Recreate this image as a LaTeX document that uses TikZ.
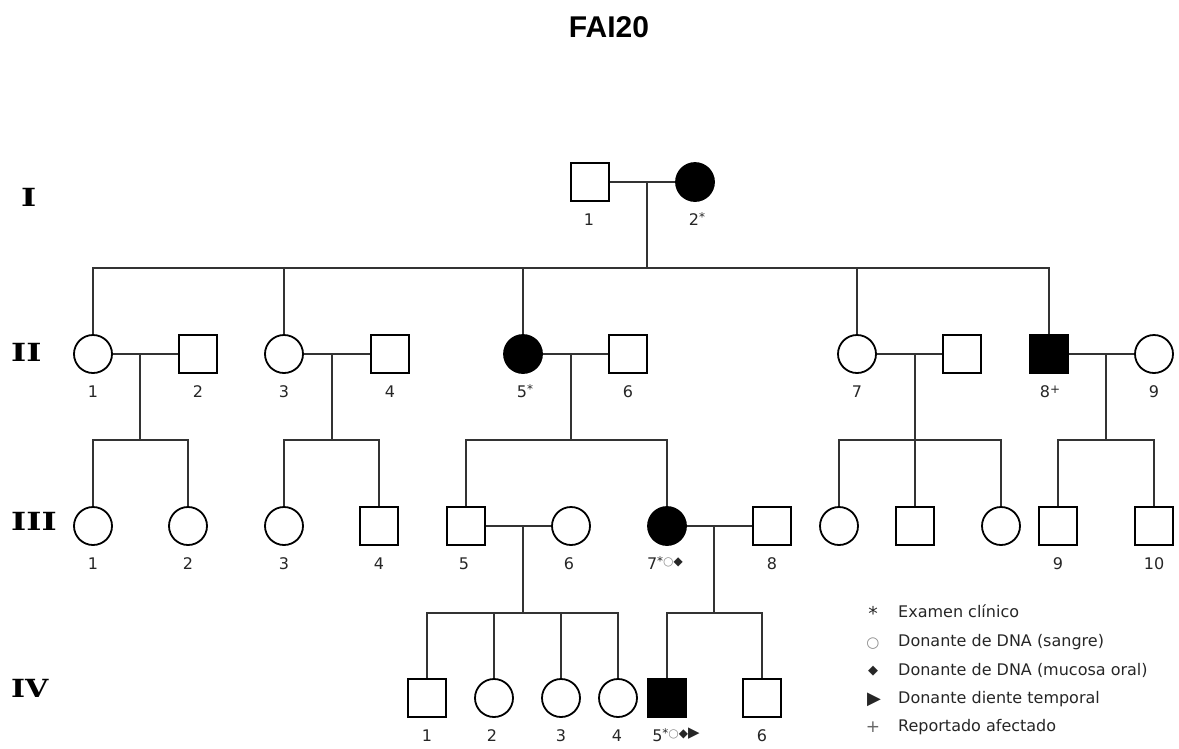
\documentclass[tikz,border=0pt]{standalone}
\usepackage{fontspec}
\setmainfont{DejaVu Sans}
\newfontfamily\titlefont{Liberation Sans}
\newfontfamily\genfont{DejaVu Serif}
\newcommand{\mk}[1]{\raisebox{3.5pt}{\fontsize{12}{12}\selectfont #1}}
\tikzset{
  male/.style={draw=black, line width=1.8pt, rectangle, minimum size=38pt, inner sep=0pt, fill=white},
  female/.style={draw=black, line width=1.8pt, circle, minimum size=38pt, inner sep=0pt, fill=white},
  aff/.style={fill=black},
  rel/.style={line width=1.5pt, draw=black!80},
  num/.style={anchor=base, inner sep=0pt, text=black!85, font=\fontsize{16}{16}\selectfont},
  gen/.style={anchor=west, inner sep=0pt, font=\genfont\bfseries\fontsize{25}{25}\selectfont},
  key/.style={anchor=base west, inner sep=0pt, text=black!85, font=\fontsize{16}{16}\selectfont},
  sym/.style={anchor=base, inner sep=0pt, text=black!85}
}
\begin{document}
\begin{tikzpicture}[x=1pt, y=-1pt]
\useasboundingbox (0,0) rectangle (1179,748);
\node[font=\titlefont\bfseries\fontsize{30}{30}\selectfont] (title) at (609,27) {FAI20};

\node[gen] (gI) at (21,197) {\scalebox{1.3}[1]{I}};
\node[gen] (gII) at (11,352) {\scalebox{1.3}[1]{II}};
\node[gen] (gIII) at (11,521) {\scalebox{1.3}[1]{III}};
\node[gen] (gIV) at (11,688) {\scalebox{1.2}[1]{IV}};

% generation I
\node[male] (I1) at (590,182) {};
\node[female, aff] (I2) at (695,182) {};
\node[num] (lI1) at (589,225) {1};
\node[num] (lI2) at (697,225) {2\mk{*}};
\coordinate (mI) at (647,182);
\coordinate (sII) at (647,268);
\draw[rel] (I1) -- (I2);
\draw[rel] (mI) -- (sII);

% generation II
\node[female] (II1) at (93,354) {};
\node[male] (II2) at (198,354) {};
\node[female] (II3) at (284,354) {};
\node[male] (II4) at (390,354) {};
\node[female, aff] (II5) at (523,354) {};
\node[male] (II6) at (628,354) {};
\node[female] (II7) at (857,354) {};
\node[male] (II7s) at (962,354) {};
\node[male, aff] (II8) at (1049,354) {};
\node[female] (II9) at (1154,354) {};
\node[num] (lII1) at (93,397) {1};
\node[num] (lII2) at (198,397) {2};
\node[num] (lII3) at (284,397) {3};
\node[num] (lII4) at (390,397) {4};
\node[num] (lII5) at (525,397) {5\mk{*}};
\node[num] (lII6) at (628,397) {6};
\node[num] (lII7) at (857,397) {7};
\node[num] (lII8) at (1050,397) {8\mk{+}};
\node[num] (lII9) at (1154,397) {9};
\draw[rel] (II1) |- (sII) -| (II8);
\draw[rel] (II3) -- (II3 |- sII);
\draw[rel] (II5) -- (II5 |- sII);
\draw[rel] (II7) -- (II7 |- sII);
\draw[rel] (II1) -- (II2);
\draw[rel] (II3) -- (II4);
\draw[rel] (II5) -- (II6);
\draw[rel] (II7) -- (II7s);
\draw[rel] (II8) -- (II9);
\coordinate (mII1) at (140,354);
\coordinate (sIII1) at (140,440);
\coordinate (mII2) at (332,354);
\coordinate (sIII2) at (332,440);
\coordinate (mII3) at (571,354);
\coordinate (sIII3) at (571,440);
\coordinate (mII4) at (915,354);
\coordinate (sIII4) at (915,440);
\coordinate (mII5) at (1106,354);
\coordinate (sIII5) at (1106,440);
\draw[rel] (mII1) -- (sIII1);
\draw[rel] (mII2) -- (sIII2);
\draw[rel] (mII3) -- (sIII3);
\draw[rel] (mII5) -- (sIII5);

% generation III
\node[female] (III1) at (93,526) {};
\node[female] (III2) at (188,526) {};
\node[female] (III3) at (284,526) {};
\node[male] (III4) at (379,526) {};
\node[male] (III5) at (466,526) {};
\node[female] (III6) at (571,526) {};
\node[female, aff] (III7) at (667,526) {};
\node[male] (III8) at (772,526) {};
\node[female] (IIIa) at (839,526) {};
\node[male] (IIIb) at (915,526) {};
\node[female] (IIIc) at (1001,526) {};
\node[male] (III9) at (1058,526) {};
\node[male] (III10) at (1154,526) {};
\node[num] (lIII1) at (93,569) {1};
\node[num] (lIII2) at (188,569) {2};
\node[num] (lIII3) at (284,569) {3};
\node[num] (lIII4) at (379,569) {4};
\node[num] (lIII5) at (464,569) {5};
\node[num] (lIII6) at (569,569) {6};
\node[num] (lIII7) at (665,569) {7\mk{*\textcolor{black!45}{○}◆}};
\node[num] (lIII8) at (772,569) {8};
\node[num] (lIII9) at (1058,569) {9};
\node[num] (lIII10) at (1154,569) {10};
\draw[rel] (III1) |- (sIII1) -| (III2);
\draw[rel] (III3) |- (sIII2) -| (III4);
\draw[rel] (III5) |- (sIII3) -| (III7);
\draw[rel] (IIIa) |- (sIII4) -| (IIIc);
\draw[rel] (mII4) -- (IIIb);
\draw[rel] (III9) |- (sIII5) -| (III10);
\draw[rel] (III5) -- (III6);
\draw[rel] (III7) -- (III8);
\coordinate (mIII1) at (523,526);
\coordinate (sIV1) at (523,613);
\coordinate (mIII2) at (714,526);
\coordinate (sIV2) at (714,613);
\draw[rel] (mIII1) -- (sIV1);
\draw[rel] (mIII2) -- (sIV2);

% generation IV
\node[male] (IV1) at (427,698) {};
\node[female] (IV2) at (494,698) {};
\node[female] (IV3) at (561,698) {};
\node[female] (IV4) at (618,698) {};
\node[male, aff] (IV5) at (667,698) {};
\node[male] (IV6) at (762,698) {};
\node[num] (lIV1) at (427,741) {1};
\node[num] (lIV2) at (492,741) {2};
\node[num] (lIV3) at (561,741) {3};
\node[num] (lIV4) at (617,741) {4};
\node[num] (lIV5) at (676,741) {5\mk{*\textcolor{black!45}{○}◆\fontsize{15}{15}\selectfont▶}};
\node[num] (lIV6) at (762,741) {6};
\draw[rel] (IV1) |- (sIV1) -| (IV4);
\draw[rel] (IV2) -- (IV2 |- sIV1);
\draw[rel] (IV3) -- (IV3 |- sIV1);
\draw[rel] (IV5) |- (sIV2) -| (IV6);

% key
\node[sym, font=\fontsize{19}{19}\selectfont] (k1s) at (873,620) {*};
\node[sym, text=black!45, font=\fontsize{15}{15}\selectfont] (k2s) at (873,647) {○};
\node[sym, font=\fontsize{13}{13}\selectfont] (k3s) at (873,674) {◆};
\node[sym, font=\fontsize{18}{18}\selectfont] (k4s) at (874,704) {▶};
\node[sym, text=black!60, font=\fontsize{17}{17}\selectfont] (k5s) at (873,732) {+};
\node[key] (k1) at (898,617) {Examen clínico};
\node[key] (k2) at (898,646) {Donante de DNA (sangre)};
\node[key] (k3) at (898,675) {Donante de DNA (mucosa oral)};
\node[key] (k4) at (898,703) {Donante diente temporal};
\node[key] (k5) at (898,731) {Reportado afectado};
\end{tikzpicture}
\end{document}
